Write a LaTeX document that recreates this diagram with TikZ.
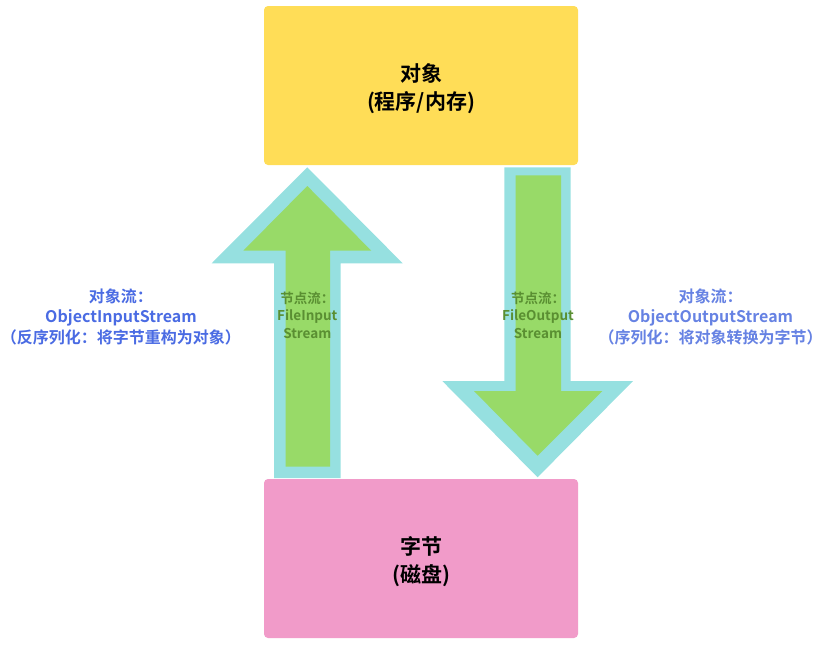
\documentclass[tikz,border=0pt]{standalone}
\usepackage{fontspec}
\setmainfont{Noto Sans CJK SC}[BoldFont={* Bold}]
\begin{document}
\begin{tikzpicture}[x=1pt,y=-1pt,
  box/.style={rounded corners=4pt, inner sep=0pt, minimum width=314pt, minimum height=159pt},
  boxtext/.style={font=\bfseries\fontsize{21}{28}\selectfont, align=center, text=black},
  sidelabel/.style={font=\bfseries\fontsize{16}{20.5}\selectfont, align=center, inner sep=0pt},
  flowlabel/.style={font=\bfseries\fontsize{13.5}{17.5}\selectfont, align=center, text=flowtext},
]
\definecolor{objyellow}{HTML}{FFDD57}
\definecolor{bytepink}{HTML}{F19BC9}
\definecolor{arrowrim}{HTML}{96E0E0}
\definecolor{arrowfill}{HTML}{98DA68}
\definecolor{flowtext}{HTML}{5A8F32}
\definecolor{inblue}{HTML}{4A6BE3}
\definecolor{outblue}{HTML}{6682E3}

\useasboundingbox (0,0) rectangle (823,645);

% storage boxes
\node[box, fill=objyellow] (obj) at (421,85.5) {};
\node[boxtext] (objtext) at (421,88.5) {对象\\(程序/内存)};
\node[box, fill=bytepink] (bytes) at (421,558.5) {};
\node[boxtext] (bytestext) at (421,561.5) {字节\\(磁盘)};

% up arrow: bytes -> object
\fill[arrowrim] (307.3,167.3) -- (402.7,263.3) -- (340.7,263.3) -- (340.7,478)
  -- (274,478) -- (274,263.3) -- (211.7,263.3) -- cycle;
\fill[arrowfill] (307.3,186) -- (371.3,250.7) -- (330,250.7) -- (330,466.7)
  -- (285.7,466.7) -- (285.7,250.7) -- (243.3,250.7) -- cycle;

% down arrow: object -> bytes
\fill[arrowrim] (504.3,167.3) -- (570.7,167.3) -- (570.7,381) -- (633,381)
  -- (537.6,477.3) -- (442.3,381) -- (504.3,381) -- cycle;
\fill[arrowfill] (515.7,175.3) -- (561,175.3) -- (561,391) -- (602.3,391)
  -- (537.6,455.7) -- (474,391) -- (515.7,391) -- cycle;

% node streams
\node[flowlabel] (fin) at (307.3,315) {节点流：\\FileInput\\Stream};
\node[flowlabel] (fout) at (538,315) {节点流：\\FileOutput\\Stream};

% object streams
\node[sidelabel, text=inblue] (oin) at (121,316.5) {对象流：\\ObjectInputStream\\（反序列化：将字节重构为对象）};
\node[sidelabel, text=outblue] (oout) at (710.5,316.5) {对象流：\\ObjectOutputStream\\（序列化：将对象转换为字节）};
\end{tikzpicture}
\end{document}
